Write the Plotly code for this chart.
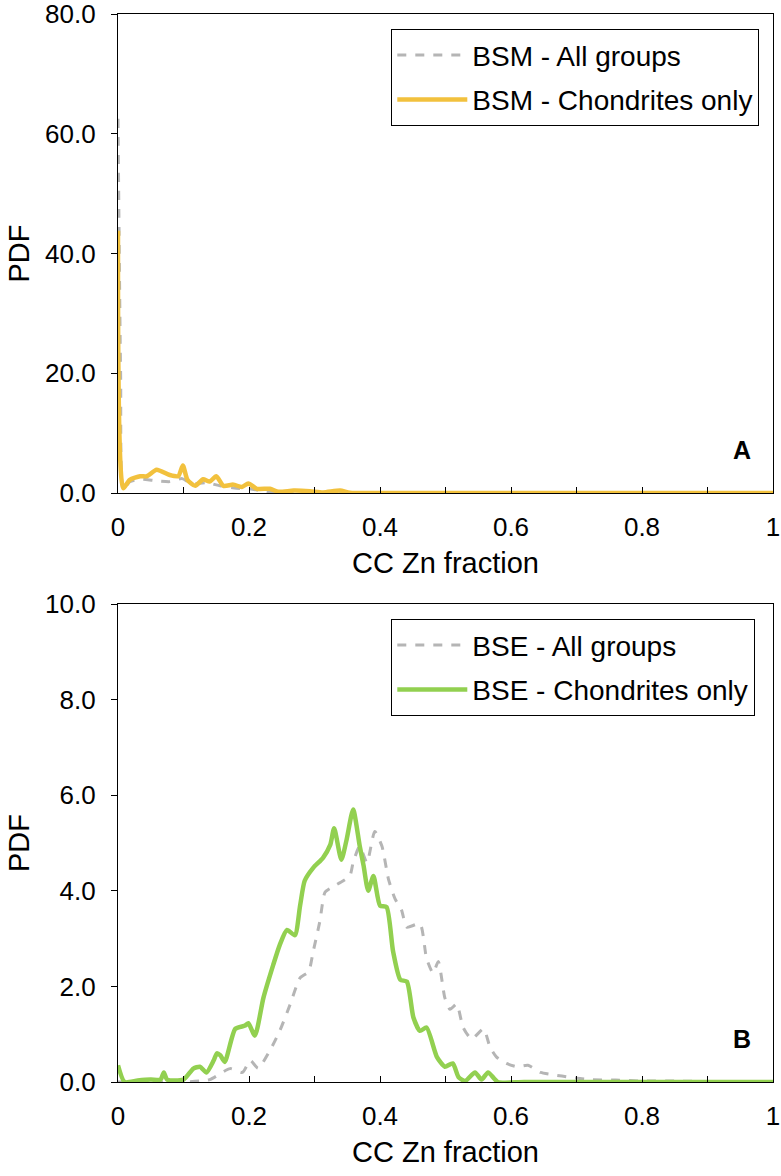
import plotly.graph_objects as go

# ---------------- Data ----------------
# Panel A (BSM)
bsm_all_x = [0.0, 0.004, 0.008, 0.018, 0.034, 0.054, 0.079, 0.098, 0.111, 0.136, 0.156,
             0.181, 0.201, 0.222, 0.242, 0.30, 0.5, 0.75, 1.0]
bsm_all_y = [62.5, 20.0, 0.5, 1.9, 2.3, 2.1, 1.9, 2.4, 1.6, 1.7, 1.2,
             0.8, 0.7, 0.3, 0.0, 0.0, 0.0, 0.0, 0.0]

bsm_ch_x = [0.0, 0.008, 0.018, 0.034, 0.044, 0.059, 0.079, 0.092, 0.099, 0.106, 0.118,
            0.130, 0.140, 0.150, 0.161, 0.176, 0.189, 0.199, 0.212, 0.232, 0.245,
            0.268, 0.293, 0.313, 0.339, 0.354, 0.40, 0.6, 0.8, 1.0]
bsm_ch_y = [43.8, 0.8, 2.2, 2.8, 2.8, 3.9, 3.0, 2.8, 4.6, 2.2, 1.2,
            2.3, 1.9, 2.8, 1.2, 1.4, 1.0, 1.6, 0.7, 0.7, 0.2,
            0.4, 0.3, 0.1, 0.4, 0.05, 0.0, 0.0, 0.0, 0.0]

# Panel B (BSE)
bse_all_x = [0.0, 0.10, 0.14, 0.171, 0.190, 0.202, 0.214, 0.232, 0.247, 0.263, 0.278,
             0.291, 0.298, 0.308, 0.316, 0.324, 0.339, 0.344, 0.354, 0.359, 0.369,
             0.380, 0.392, 0.403, 0.413, 0.423, 0.433, 0.441, 0.461, 0.471, 0.481,
             0.489, 0.499, 0.507, 0.517, 0.527, 0.540, 0.558, 0.568, 0.578, 0.593,
             0.609, 0.626, 0.645, 0.665, 0.69, 0.72, 0.76, 0.80, 0.85, 0.90, 1.0]
bse_all_y = [0.0, 0.0, 0.05, 0.28, 0.2, 0.45, 0.29, 0.66, 1.07, 1.63, 2.18,
             2.31, 2.73, 3.35, 3.97, 4.05, 4.17, 4.21, 4.31, 4.59, 4.93,
             4.59, 5.24, 4.93, 4.24, 3.83, 3.59, 3.24, 3.31, 2.59, 2.28,
             2.52, 1.76, 1.52, 1.63, 1.14, 0.9, 1.11, 0.73, 0.52, 0.39,
             0.32, 0.35, 0.2, 0.15, 0.1, 0.05, 0.04, 0.02, 0.02, 0.01, 0.0]

bse_ch_x = [0.0, 0.01, 0.03, 0.05, 0.065, 0.07, 0.075, 0.10, 0.115, 0.125, 0.135,
            0.146, 0.151, 0.156, 0.163, 0.179, 0.194, 0.199, 0.209, 0.222, 0.237,
            0.247, 0.258, 0.270, 0.278, 0.285, 0.298, 0.313, 0.324, 0.330, 0.341,
            0.349, 0.359, 0.369, 0.375, 0.382, 0.390, 0.400, 0.410, 0.420, 0.431,
            0.441, 0.451, 0.461, 0.471, 0.487, 0.499, 0.511, 0.520, 0.530, 0.545,
            0.555, 0.565, 0.58, 0.62, 0.8, 1.0]
bse_ch_y = [0.35, 0.0, 0.03, 0.05, 0.05, 0.2, 0.05, 0.05, 0.28, 0.32, 0.2,
            0.45, 0.6, 0.56, 0.42, 1.11, 1.18, 1.23, 0.97, 1.76, 2.45,
            2.87, 3.18, 3.07, 3.69, 4.21, 4.48, 4.69, 4.96, 5.31, 4.65,
            5.07, 5.7, 4.94, 4.52, 4.0, 4.31, 3.69, 3.66, 2.73, 2.14,
            2.1, 1.35, 1.07, 1.14, 0.52, 0.32, 0.39, 0.1, 0.02, 0.2,
            0.05, 0.2, 0.0, 0.0, 0.0, 0.0]

x_ticks = [0, 0.2, 0.4, 0.6, 0.8, 1]

GRAY = "#B5B5B5"
GOLD = "#F2C13D"
GREEN = "#92D050"
FONT = "Liberation Sans, Arial, sans-serif"

fig = go.Figure()
fig.add_trace(go.Scatter(x=bsm_all_x, y=bsm_all_y, mode="lines", name="BSM - All groups",
                         legendgroup="a1",
                         line=dict(color=GRAY, width=3, dash="dash", shape="spline", smoothing=0.6),
                         xaxis="x", yaxis="y", legend="legend"))
fig.add_trace(go.Scatter(x=bsm_ch_x, y=bsm_ch_y, mode="lines", name="BSM - Chondrites only",
                         legendgroup="a2",
                         line=dict(color=GOLD, width=4.5, shape="spline", smoothing=0.6),
                         xaxis="x", yaxis="y", legend="legend"))
fig.add_trace(go.Scatter(x=bse_all_x, y=bse_all_y, mode="lines", name="BSE - All groups",
                         legendgroup="b1",
                         line=dict(color=GRAY, width=3, dash="dash", shape="spline", smoothing=0.6),
                         xaxis="x2", yaxis="y2", legend="legend2"))
fig.add_trace(go.Scatter(x=bse_ch_x, y=bse_ch_y, mode="lines", name="BSE - Chondrites only",
                         legendgroup="b2",
                         line=dict(color=GREEN, width=4.5, shape="spline", smoothing=0.6),
                         xaxis="x2", yaxis="y2", legend="legend2"))

W, H = 781, 1176
ml, mr, mt, mb = 118, 8, 14, 94
ph = H - mt - mb
pw = W - ml - mr

TICK = 26
TITLE = 29
LEG = 28


def ydom(top_px, bot_px):
    return [(H - mb - bot_px) / ph, (H - mb - top_px) / ph]


common_x = dict(range=[0, 1], tickvals=x_ticks, ticks="inside", ticklen=6, tickwidth=1.3,
                tickcolor="black", showline=True, linecolor="black", linewidth=1.3, mirror=True,
                showgrid=False, zeroline=False, automargin=False, ticklabelstandoff=11,
                ticklabeloverflow="allow",
                minor=dict(dtick=0.1, tick0=0, ticks="inside", ticklen=6, tickwidth=1.3, tickcolor="black"),
                tickfont=dict(size=TICK, color="black", family=FONT),
                title=dict(text="CC Zn fraction", font=dict(size=TITLE, color="black", family=FONT), standoff=11))
common_y = dict(ticks="outside", ticklen=6, tickwidth=1.3, tickcolor="black", showline=True,
                linecolor="black", linewidth=1.3, mirror=True, showgrid=False, zeroline=False,
                automargin=False, ticklabelstandoff=10, ticklabeloverflow="allow",
                tickformat=".1f", tickfont=dict(size=TICK, color="black", family=FONT),
                title=dict(text="PDF", font=dict(size=TITLE, color="black", family=FONT), standoff=6))

leg_common = dict(xanchor="left", yanchor="top", bordercolor="black", borderwidth=1.3, bgcolor="white",
                  font=dict(size=LEG, color="black", family=FONT), tracegroupgap=5, itemwidth=70)

fig.update_layout(
    width=W, height=H,
    margin=dict(l=ml, r=mr, t=mt, b=mb),
    paper_bgcolor="white", plot_bgcolor="white",
    font=dict(family=FONT, color="black"),
    xaxis=dict(domain=[0, 1], anchor="y", **common_x),
    yaxis=dict(domain=ydom(14, 493), anchor="x", range=[0, 80], dtick=20, **common_y),
    xaxis2=dict(domain=[0, 1], anchor="y2", **common_x),
    yaxis2=dict(domain=ydom(604, 1082), anchor="x2", range=[0, 10], dtick=2, **common_y),
    legend=dict(x=(391 - ml) / pw, y=(H - mb - 29) / ph, **leg_common),
    legend2=dict(x=(391 - ml) / pw, y=(H - mb - 619) / ph, **leg_common),
    showlegend=True,
)

fig.add_annotation(text="<b>A</b>", x=0.953, y=0.09, xref="x domain", yref="y domain",
                   xanchor="center", yanchor="middle",
                   showarrow=False, font=dict(size=25, color="black", family=FONT))
fig.add_annotation(text="<b>B</b>", x=0.953, y=0.09, xref="x2 domain", yref="y2 domain",
                   xanchor="center", yanchor="middle",
                   showarrow=False, font=dict(size=25, color="black", family=FONT))

fig.write_html("out.html")
